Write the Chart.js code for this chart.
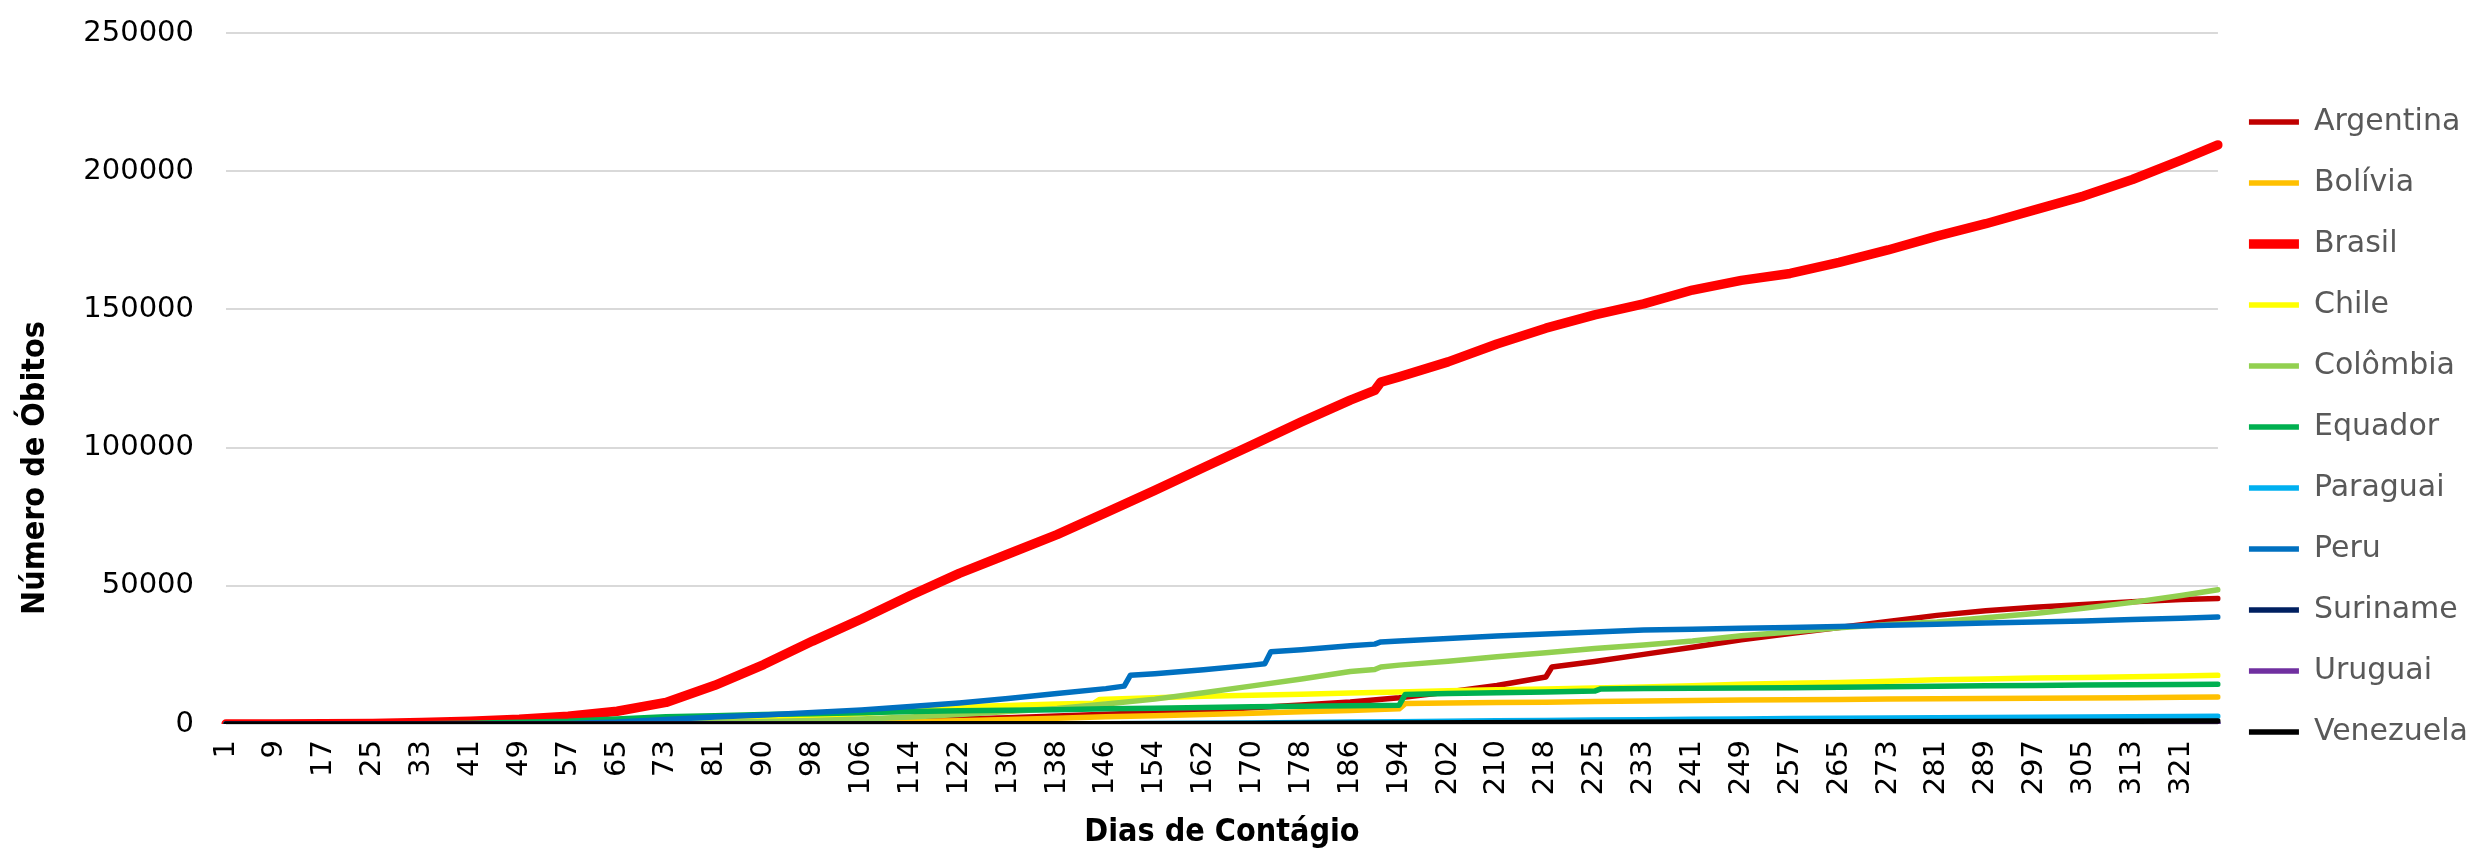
<!DOCTYPE html>
<html>
<head>
<meta charset="utf-8">
<script src="https://cdn.jsdelivr.net/npm/chart.js@4.4.0/dist/chart.umd.min.js"></script>
<style>
  html, body { margin: 0; padding: 0; background: #ffffff; }
  #wrap { width: 2478px; height: 854px; }
</style>
</head>
<body>
<div id="wrap"><canvas id="obitos" width="2478" height="854"></canvas></div>
<script>
/* --------------- Dias de contágio (categorias) --------------------- */
// a planilha pula o dia 86 e repete o dia 222
const lastDay = 327;
const skippedDay = 86;
const repeatedDay = 222;
const dias = [];
for (let d = 1; d <= lastDay; d++) {
  if (d === skippedDay) continue;
  dias.push(String(d));
  if (d === repeatedDay) dias.push(String(d));
}

/* --------------- Óbitos acumulados: [dia, óbitos] --------------------- */
const argentina = [[1,0],[33,0],[41,10],[49,100],[57,250],[65,400],[73,500],[81,600],[90,700],[98,900],[106,1100],[114,1400],[122,1800],[130,2300],[138,2900],[146,3500],[154,4200],[162,5000],[170,5900],[178,6900],[186,8000],[194,9500],[202,11600],[210,13900],[218,17000],[219,20600],[225,22600],[233,25200],[241,27800],[249,30500],[257,32700],[265,34900],[273,37100],[281,39300],[289,41000],[297,42200],[305,43200],[313,44200],[321,45000],[327,45400]];
const bolivia = [[1,0],[49,0],[57,50],[65,150],[73,250],[81,350],[90,420],[98,500],[106,700],[114,900],[122,1200],[130,1600],[138,2100],[146,2600],[154,3000],[162,3400],[170,3900],[178,4400],[186,4900],[194,5500],[195,7400],[202,7600],[210,7800],[218,7900],[225,8100],[233,8300],[241,8500],[249,8700],[257,8800],[265,8900],[273,9000],[281,9100],[289,9200],[297,9300],[305,9400],[313,9500],[321,9700],[327,9800]];
const brasil = [[1,0],[9,0],[17,50],[25,200],[33,500],[41,1000],[49,1700],[57,2800],[65,4600],[73,7800],[81,14000],[90,21500],[98,30000],[106,38000],[114,46500],[122,54500],[130,61500],[138,68500],[146,76500],[154,84500],[162,92800],[170,101000],[178,109300],[186,117200],[190,120700],[191,123700],[194,125600],[202,131000],[210,137500],[218,143200],[225,148000],[233,152000],[241,157000],[249,160500],[257,163000],[265,167000],[273,171500],[281,176500],[289,181000],[297,186000],[305,191000],[313,197000],[321,204000],[327,209500]];
const chile = [[1,0],[25,0],[33,10],[41,50],[49,150],[57,250],[65,350],[73,500],[81,900],[90,1500],[98,2600],[106,3800],[114,4900],[122,6200],[130,6700],[138,7200],[144,7500],[145,8900],[146,9000],[154,9500],[162,10000],[170,10400],[178,10800],[186,11200],[194,11600],[202,12000],[210,12400],[218,12700],[225,13000],[233,13400],[241,13800],[249,14400],[257,14700],[265,15000],[273,15500],[281,16000],[289,16300],[297,16600],[305,16800],[313,17100],[321,17400],[327,17600]];
const colombia = [[1,0],[41,0],[49,20],[57,100],[65,200],[73,350],[81,600],[90,900],[98,1300],[106,1800],[114,2500],[122,3400],[130,4500],[138,5600],[146,7200],[154,9000],[162,11300],[170,13800],[178,16300],[186,19000],[190,19700],[191,20600],[194,21300],[202,22700],[210,24300],[218,25800],[225,27300],[233,28600],[241,30000],[249,31900],[257,33300],[265,34800],[273,36000],[281,36900],[289,38400],[297,40000],[305,41900],[313,44000],[321,46500],[327,48600]];
const equador = [[1,0],[17,0],[25,20],[33,100],[41,300],[49,600],[57,1000],[65,1800],[73,2600],[81,3000],[90,3400],[98,3700],[106,4100],[114,4500],[122,4800],[130,5000],[138,5200],[146,5500],[154,5700],[162,6000],[170,6200],[178,6400],[186,6600],[194,6800],[195,10700],[202,11000],[210,11300],[218,11600],[225,11900],[226,12700],[233,12800],[241,12900],[249,13000],[257,13100],[265,13300],[273,13500],[281,13700],[289,13800],[297,13900],[305,14100],[313,14200],[321,14300],[327,14400]];
const paraguai = [[1,0],[81,0],[90,10],[106,20],[122,40],[138,90],[146,130],[154,200],[162,300],[170,400],[178,550],[186,700],[194,850],[202,1000],[210,1150],[218,1300],[225,1450],[233,1550],[241,1700],[249,1850],[257,1950],[265,2050],[273,2150],[281,2250],[289,2350],[297,2450],[305,2550],[313,2650],[321,2750],[327,2800]];
const peru = [[1,0],[41,0],[49,50],[57,200],[65,700],[73,1600],[81,2500],[90,3300],[98,4200],[106,5100],[114,6300],[122,7600],[130,9200],[138,11000],[146,12800],[149,13700],[150,17600],[154,18200],[162,19600],[170,21300],[172,21800],[173,26100],[178,26900],[186,28300],[190,28900],[191,29700],[194,30000],[202,30900],[210,31800],[218,32600],[225,33300],[233,34000],[241,34300],[249,34600],[257,34900],[265,35300],[273,35700],[281,36100],[289,36500],[297,36900],[305,37300],[313,37800],[321,38300],[327,38700]];
const suriname = [[1,0],[65,0],[106,10],[146,20],[186,60],[225,110],[265,130],[305,150],[327,160]];
const uruguai = [[1,0],[41,10],[90,22],[146,32],[202,46],[249,60],[281,100],[305,170],[327,300]];
const venezuela = [[1,0],[41,10],[90,10],[122,50],[146,100],[170,200],[194,350],[218,550],[241,700],[265,800],[289,900],[313,1000],[327,1050]];

const paises = ["Argentina", "Bolívia", "Brasil", "Chile", "Colômbia", "Equador", "Paraguai", "Peru", "Suriname", "Uruguai", "Venezuela"];
const series = [argentina, bolivia, brasil, chile, colombia, equador, paraguai, peru, suriname, uruguai, venezuela];
const cores = ["#C00000", "#FFC000", "#FF0000", "#FFFF00", "#92D050", "#00B050", "#00B0F0", "#0070C0", "#002060", "#7030A0", "#000000"];

/* --------------- Título do eixo Y (posição do Excel) --------------------- */
const tituloY = {
  id: "tituloY",
  afterDraw(chart) {
    const ctx = chart.ctx;
    ctx.save();
    ctx.translate(36, 468);
    ctx.rotate(-Math.PI / 2);
    ctx.font = "bold 32px 'Liberation Sans Narrow', 'DejaVu Sans Condensed', 'Open Sans'";
    ctx.fillStyle = "#000000";
    ctx.textAlign = "center";
    ctx.textBaseline = "middle";
    ctx.fillText("Número de Óbitos", 0, 0);
    ctx.restore();
  },
};

/* --------------- Chart --------------------- */
const datasets = series.map((s, i) => ({
  label: paises[i],
  data: s.map(([dia, v]) => ({ x: String(dia), y: v })),
  borderColor: cores[i],
  backgroundColor: cores[i],
  borderWidth: paises[i] === "Brasil" ? 9.5 : 5.5,
  borderCapStyle: "round",
  borderJoinStyle: "round",
  pointRadius: 0,
  tension: 0,
  order: series.length - i, // Excel desenha a última série por cima
}));

const tickFont = { family: "'DejaVu Sans'", size: 29 };

new Chart(document.getElementById("obitos"), {
  type: "line",
  plugins: [tituloY],
  data: { labels: dias, datasets: datasets },
  options: {
    responsive: false,
    animation: false,
    layout: { padding: 0 },
    plugins: {
      tooltip: { enabled: false },
      legend: {
        position: "right",
        align: "center",
        labels: {
          usePointStyle: true,
          pointStyle: "line",
          pointStyleWidth: 50,
          padding: 31,
          color: "#595959",
          font: { family: "'DejaVu Sans'", size: 30 },
          sort: (a, b) => a.datasetIndex - b.datasetIndex,
        },
      },
    },
    scales: {
      x: {
        type: "category",
        offset: false,
        grid: { display: false },
        border: { display: false },
        ticks: {
          autoSkip: false,
          maxRotation: 90,
          minRotation: 90,
          padding: 8,
          color: "#000000",
          font: tickFont,
          callback: function (value, index) {
            return index % 8 === 0 ? this.getLabelForValue(value) : "";
          },
        },
        title: {
          display: true,
          text: "Dias de Contágio",
          color: "#000000",
          font: { family: "'Liberation Sans Narrow', 'DejaVu Sans Condensed', 'Open Sans'", size: 32, weight: "bold" },
          padding: { top: 0, bottom: 2 },
        },
        afterFit: (scale) => { scale.height = 130; },
      },
      y: {
        min: 0,
        max: 250000,
        grid: { color: "#D9D9D9", lineWidth: 2, drawTicks: false },
        border: { display: false },
        ticks: {
          stepSize: 50000,
          padding: 32,
          color: "#000000",
          font: tickFont,
          callback: (value) => String(value),
        },
        afterFit: (scale) => {
          scale.width = 226;
          scale.paddingTop = 33;
        },
      },
    },
  },
});
</script>
</body>
</html>
